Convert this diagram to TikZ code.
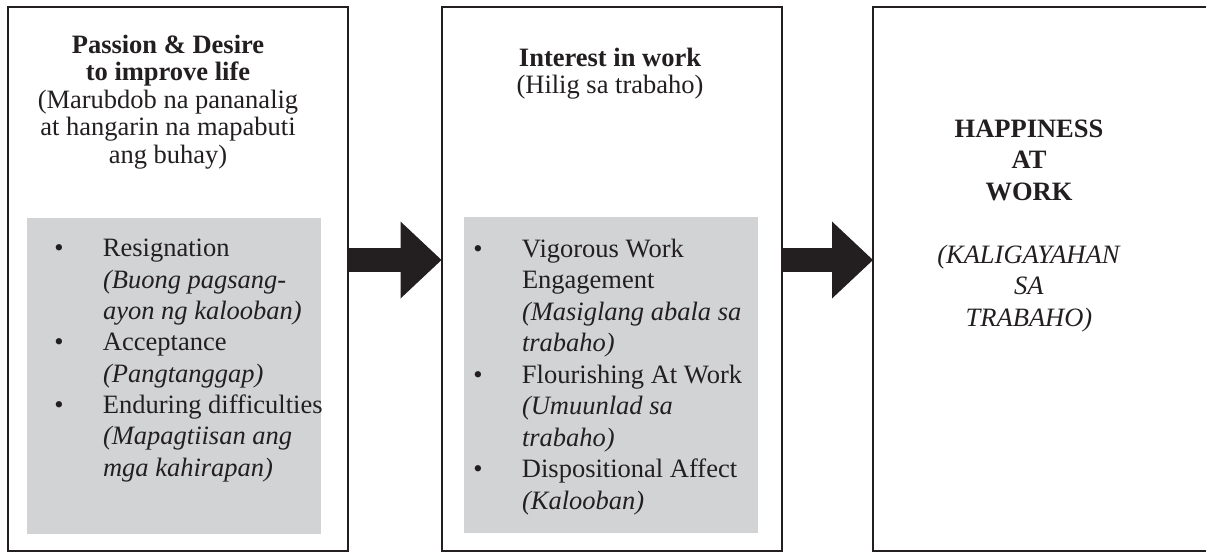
\documentclass[tikz,border=0pt]{standalone}
\usepackage{fontspec}
\setmainfont{Liberation Serif}
\usetikzlibrary{arrows.meta}
\definecolor{ink}{RGB}{35,31,32}
\definecolor{panel}{RGB}{209,211,212}
\newcommand{\mybul}{\llap{\textbullet\hspace{19.7pt}}}
\tikzset{
  outerbox/.style={draw=ink, line width=1pt, fill=none, inner sep=0pt, outer sep=0pt,
    minimum width=170pt, minimum height=272pt},
  graybox/.style={fill=panel, draw=none, inner sep=0pt, outer sep=0pt,
    minimum width=147pt, minimum height=158pt},
  txt/.style={text=ink, inner sep=0pt, outer sep=0pt},
  bigarrow/.style={draw=ink, line width=12pt,
    -{Triangle[length=20.5pt,width=38.5pt,line width=0pt,fill=ink]}},
}
\begin{document}
\begin{tikzpicture}[x=0.5pt,y=-0.5pt]
\useasboundingbox (0,0) rectangle (1206,552);
\clip (0,0) rectangle (1206,552);
\fill[white] (0,0) rectangle (1206,552);
% outer boxes
\node[outerbox] (b1) at (178,279) {};
\node[outerbox] (b2) at (611.5,279) {};
\node[outerbox] (b3) at (1043,279) {};
% gray panels
\node[graybox] (g1) at (174,376) {};
\node[graybox] (g2) at (611,375) {};
% titles (anchor = baseline of last line)
\node[txt, anchor=base, align=center, font={\fontsize{13.25pt}{13.75pt}\selectfont}] (t1) at (168,163)
  {\textbf{Passion \& Desire}\\ \textbf{to improve life}\\ (Marubdob na pananalig\\ at hangarin na mapabuti\\ ang buhay)};
\node[txt, anchor=base, align=center, font={\fontsize{13.25pt}{13.25pt}\selectfont}] (t2) at (610,93)
  {\textbf{Interest in work}\\ (Hilig sa trabaho)};
\node[txt, anchor=base, align=center, font={\fontsize{13.25pt}{15.75pt}\selectfont}] (t3) at (1029,326)
  {\textbf{HAPPINESS}\\ \textbf{AT}\\ \textbf{WORK}\\ \mbox{}\\ \textit{(KALIGAYAHAN}\\ \textit{SA}\\ \textit{TRABAHO)}};
% lists
\node[txt, anchor=base west, align=left, font={\fontsize{13.25pt}{15.65pt}\selectfont}] (l1) at (103,476)
  {\mybul Resignation\\ \textit{(Buong pagsang-}\\ \textit{ayon ng kalooban)}\\
   \mybul Acceptance\\ \textit{(Pangtanggap)}\\
   \mybul Enduring difficulties\\ \textit{(Mapagtiisan ang}\\ \textit{mga kahirapan)}};
\node[txt, anchor=base west, align=left, font={\fontsize{13.25pt}{15.75pt}\selectfont}] (l2) at (522,509)
  {\mybul Vigorous Work\\ Engagement\\ \textit{(Masiglang abala sa}\\ \textit{trabaho)}\\
   \mybul Flourishing At Work\\ \textit{(Umuunlad sa}\\ \textit{trabaho)}\\
   \mybul Dispositional Affect\\ \textit{(Kalooban)}};
% arrows
\draw[bigarrow] ([yshift=9.5pt]b1.east) -- ([yshift=9.5pt]b2.west);
\draw[bigarrow] ([yshift=9.5pt]b2.east) -- ([yshift=9.5pt]b3.west);
\end{tikzpicture}
\end{document}
